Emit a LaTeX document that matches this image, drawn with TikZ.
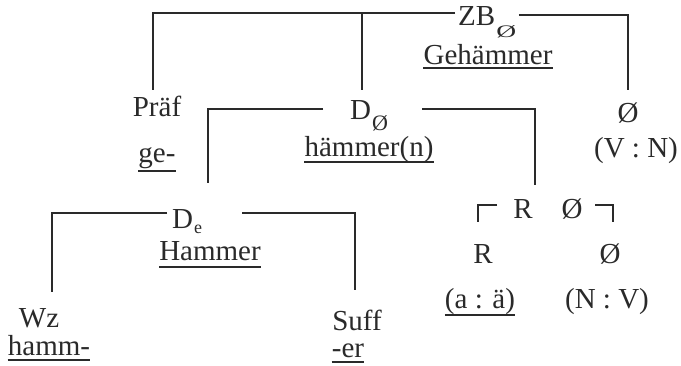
\documentclass[tikz,border=0pt]{standalone}
\usepackage{fontspec}
\setmainfont{Liberation Serif}
\usetikzlibrary{calc}
\definecolor{ink}{HTML}{2A2A2A}
\newcommand{\sbs}[3][10pt]{\raisebox{-#1}{\fontsize{#2}{#2}\selectfont #3}}
\begin{document}
\begin{tikzpicture}[x=1pt,y=-1pt,
  txt/.style={inner sep=0pt, anchor=base, font=\fontsize{29}{32}\selectfont, text=ink},
  ln/.style={draw=ink, line width=1.4pt},
  ul/.style={draw=ink, line width=1.3pt}]
\fill[white] (0,0) rectangle (681,365);
\useasboundingbox (0,0) rectangle (681,365);
% nodes
\node[txt, anchor=base west] (zb) at (458,25) {ZB\kern1pt\raisebox{-12pt}{\scalebox{1.25}[0.8]{\fontsize{22}{22}\selectfont Ø}}};
\node[txt] (geh) at (488,64) {Gehämmer};
\node[txt] (praef) at (157,116) {Präf};
\node[txt] (ge) at (157,162) {ge-};
\node[txt, anchor=base west] (dn) at (350,119) {D\kern1pt\sbs[11pt]{22}{Ø}};
\node[txt] (haem) at (369,156) {hämmer(n)};
\node[txt] (z1) at (628,122) {Ø};
\node[txt] (vn) at (636,157) {(V : N)};
\node[txt, anchor=base west] (de) at (172,228) {D\kern1pt\sbs[5pt]{18}{e}};
\node[txt] (hammer) at (210,260) {Hammer};
\node[txt] (wz) at (39,327) {Wz};
\node[txt] (hamm) at (49,355) {hamm-};
\node[txt] (suff) at (357,330) {Suff};
\node[txt] (er) at (348,357) {-er};
\node[txt] (r1) at (523,218) {R};
\node[txt] (z2) at (572,218) {Ø};
\node[txt] (r2) at (483,263) {R};
\node[txt] (z3) at (610,263) {Ø};
\node[txt] (ae) at (480,308) {(a : ä)};
\node[txt] (nv) at (607,308) {(N : V)};
% underlines
\draw[ul] ([yshift=-4pt]geh.base west) -- ([yshift=-4pt]geh.base east);
\draw[ul] ([yshift=-9pt]ge.base west) -- ([yshift=-9pt]ge.base east);
\draw[ul] ([yshift=-6pt]haem.base west) -- ([yshift=-6pt]haem.base east);
\draw[ul] ([yshift=-7pt]hammer.base west) -- ([yshift=-7pt]hammer.base east);
\draw[ul] ([yshift=-5pt]hamm.base west) -- ([yshift=-5pt]hamm.base east);
\draw[ul] ([yshift=-5pt]er.base west) -- ([yshift=-5pt]er.base east);
\draw[ul] ([yshift=-7pt]ae.base west) -- ([yshift=-7pt]ae.base east);
% connectors
\coordinate (topL) at ([xshift=-3pt,yshift=12pt]zb.base west);
\coordinate (dnstem) at ([xshift=12pt,yshift=29pt]dn.base west);
\draw[ln] (topL) -| ([xshift=-4pt,yshift=26pt]praef.base);
\draw[ln] (topL -| dnstem) -- (dnstem);
\draw[ln] ([xshift=2.5pt,yshift=10pt]zb.base east) -| ([yshift=32pt]z1.base);
\draw[ln] ([xshift=-27pt,yshift=10pt]dn.base west) -| ([xshift=36pt,yshift=45pt]de.base west);
\draw[ln] ([xshift=34pt,yshift=10pt]dn.base east) -| ([xshift=12pt,yshift=33pt]r1.base);
\draw[ln] ([xshift=-5pt,yshift=15pt]de.base west) -| ([xshift=13pt,yshift=35pt]wz.base);
\draw[ln] ([xshift=40pt,yshift=15pt]de.base east) -| ([xshift=-2pt,yshift=40pt]suff.base);
% brackets
\draw[ln] ([xshift=-16pt,yshift=13pt]r1.base west) -| ([xshift=-35pt,yshift=-4pt]r1.base west);
\draw[ln] ([xshift=12.5pt,yshift=13pt]z2.base east) -| ([xshift=30.5pt,yshift=-4pt]z2.base east);
\end{tikzpicture}
\end{document}
